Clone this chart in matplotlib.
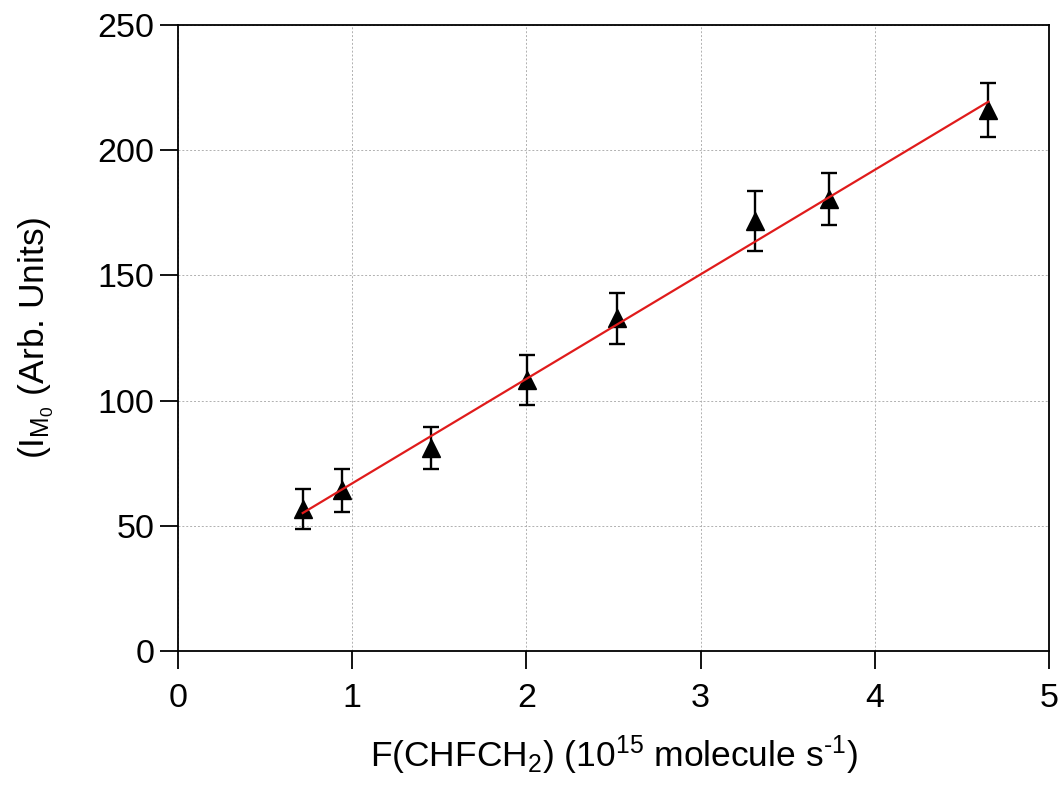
import numpy as np
import matplotlib
matplotlib.use("Agg")
import matplotlib.pyplot as plt

plt.rcParams['font.family'] = ['Liberation Sans', 'DejaVu Sans']
plt.rcParams['mathtext.fontset'] = 'custom'
plt.rcParams['mathtext.rm'] = 'Liberation Sans'
plt.rcParams['mathtext.it'] = 'Liberation Sans:italic'

# data
flow = [0.716, 0.943, 1.452, 2.002, 2.522, 3.314, 3.739, 4.652]
signal = [56.7, 64.1, 81.1, 108.2, 132.8, 171.8, 180.5, 216.2]
signal_err = [8.0, 8.6, 8.4, 10.0, 10.2, 12.0, 10.3, 10.8]

# linear fit shown in red
fit_slope = 41.74
fit_intercept = 25.2

fig = plt.figure(figsize=(10.62, 7.86), dpi=100)
ax = fig.add_axes([0.1676, 0.1718, 0.8202, 0.7964])

xf = np.array([flow[0], flow[-1]])
ax.plot(xf, fit_slope * xf + fit_intercept, color='#e01b1b', lw=1.6, zorder=3)
ax.errorbar(flow, signal, yerr=signal_err, fmt='^', color='black', ms=13,
            elinewidth=1.7, capsize=6, capthick=1.7, zorder=2)

ax.set_xlim(0, 5)
ax.set_ylim(0, 250)
ax.set_xticks(np.arange(0, 6, 1))
ax.set_yticks(np.arange(0, 251, 50))
ax.grid(True, linestyle=(0, (2, 2)), color='#b0b0b0', lw=0.7)
ax.set_axisbelow(True)
ax.tick_params(direction='out', length=13, width=1.3, labelsize=24.5,
               top=False, right=False)
ax.tick_params(axis='x', pad=10)
ax.tick_params(axis='y', pad=4)
for s in ax.spines.values():
    s.set_linewidth(1.3)

ax.set_xlabel(r'F(CHFCH$_2$) (10$^{15}$ molecule s$^{\text{-}1}$)', fontsize=25.5)
ax.set_ylabel(r'(I$_{\mathrm{M_0}}$ (Arb. Units)', fontsize=25.5)
ax.xaxis.set_label_coords(0.5, -0.132)
ax.yaxis.set_label_coords(-0.14, 0.5)

fig.savefig('out.png', dpi=100)
